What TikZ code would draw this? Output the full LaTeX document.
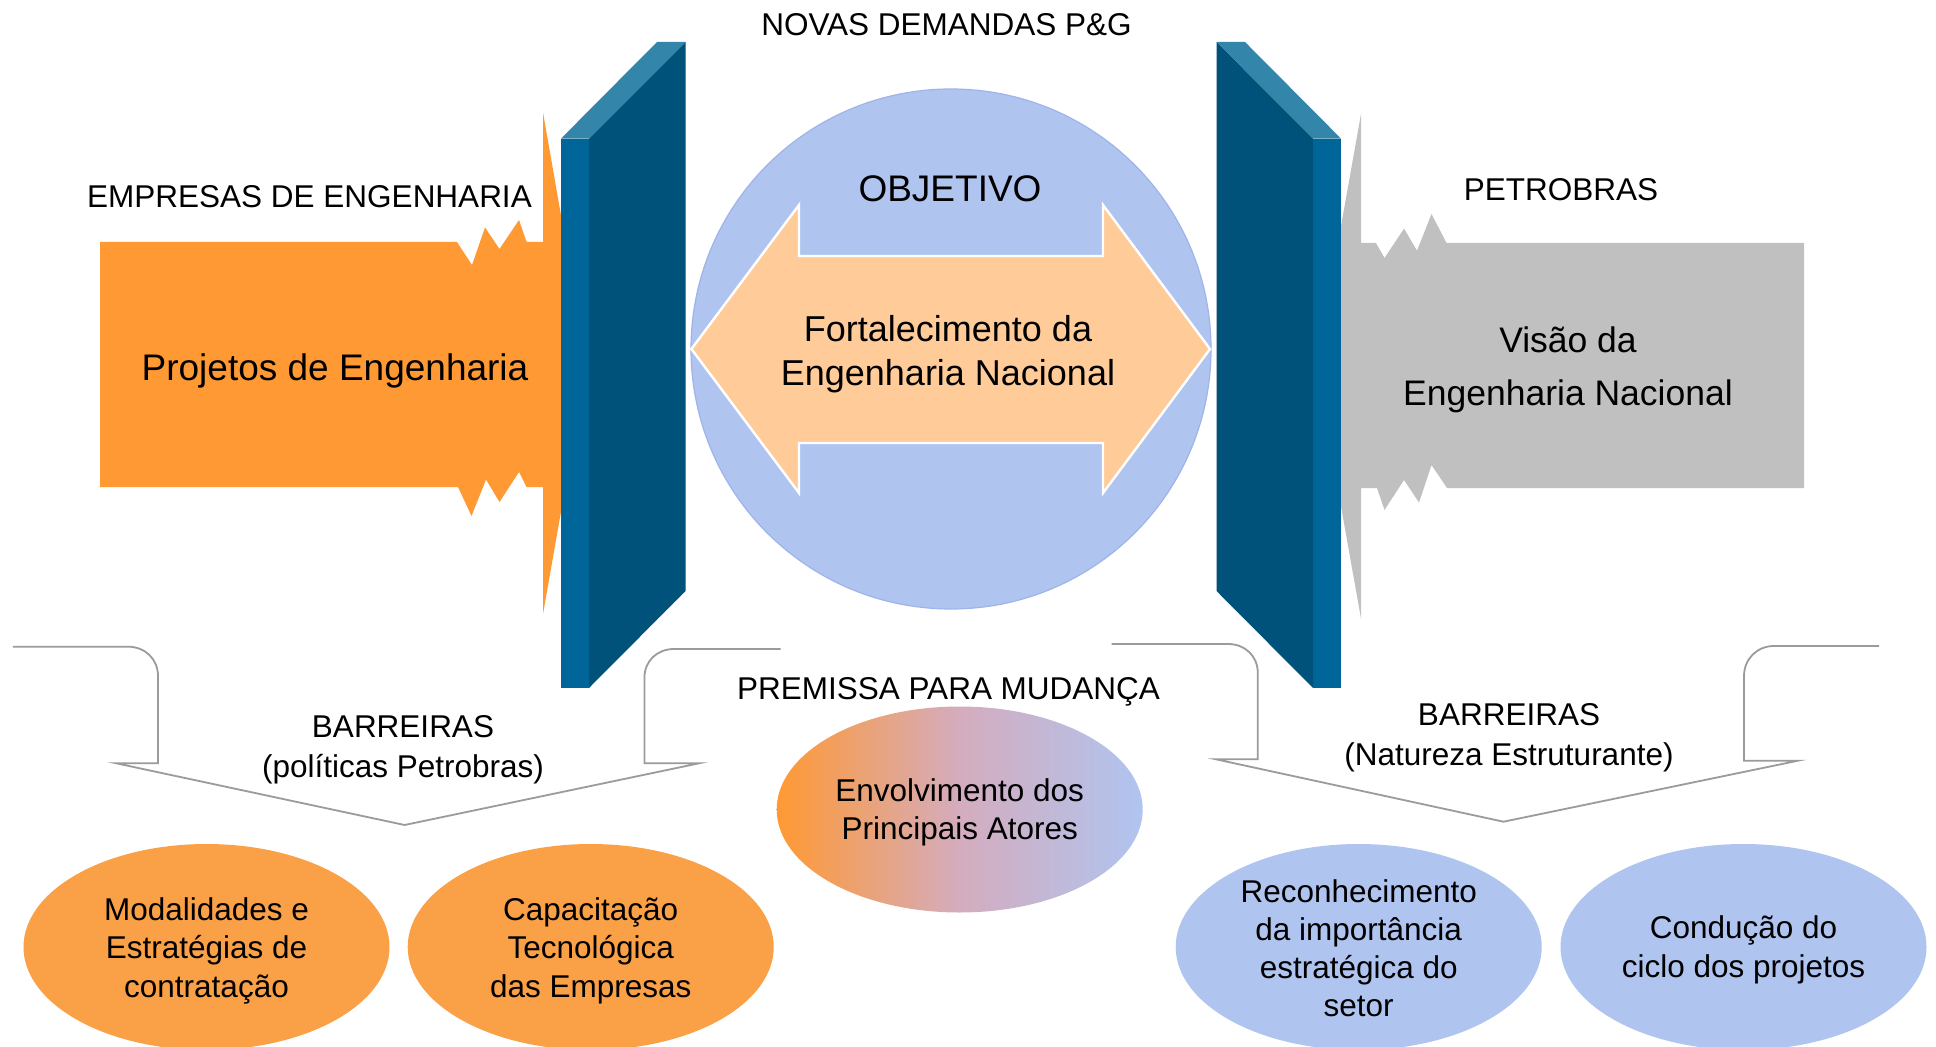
\documentclass[tikz,border=0pt]{standalone}
\usepackage{fontspec}
\setmainfont{Liberation Sans}
\usetikzlibrary{shapes.geometric}
\definecolor{orng}{RGB}{255,153,51}
\definecolor{orngpat}{RGB}{250,160,70}
\definecolor{grayarrow}{RGB}{192,192,192}
\definecolor{panelfront}{RGB}{0,102,153}
\definecolor{paneldark}{RGB}{0,82,122}
\definecolor{paneltop}{RGB}{51,133,170}
\definecolor{lblue}{RGB}{176,196,240}
\definecolor{lbluedraw}{RGB}{158,180,234}
\definecolor{peach}{RGB}{255,204,153}
\definecolor{calloutgray}{RGB}{155,155,155}
\newcommand\myfA{\fontsize{15.75}{19.15}\selectfont}
\newcommand\myfBar{\fontsize{15.75}{19.75}\selectfont}
\newcommand\myfBig{\fontsize{18.5}{22}\selectfont}
\newcommand\myfFort{\fontsize{18}{22}\selectfont}
\newcommand\myfVis{\fontsize{17.75}{26.5}\selectfont}
\begin{document}
\begin{tikzpicture}[x=0.5pt,y=-0.5pt,
  txt/.style={inner sep=0pt, align=center, font=\myfA},
  oval/.style={ellipse, minimum width=183pt, minimum height=103pt, inner sep=0pt},
  orangeoval/.style={oval, fill=orngpat},
  blueoval/.style={oval, fill=lblue},
  callout/.style={draw=calloutgray, line width=0.9pt},
  front/.style={fill=panelfront},
  dark/.style={fill=paneldark},
  topface/.style={fill=paneltop}]
\useasboundingbox (0,0) rectangle (1936,1047);
\fill[white] (0,0) rectangle (1936,1047);

% orange arrow (Empresas)
\fill[orng] (100,242) -- (457,242) -- (472,265) -- (485,227.5) -- (499.5,249) -- (519,220) -- (526.6,242) -- (543,242)
  -- (543,112.5) -- (587,364) -- (543,614) -- (543,487) -- (526.6,487) -- (519,472) -- (499.5,502) -- (486,479.6)
  -- (471.5,516) -- (458,487) -- (100,487) -- cycle;
% gray arrow (Petrobras)
\fill[grayarrow] (1804,243) -- (1446.5,243) -- (1431.5,214) -- (1417,250.7) -- (1404,228.6) -- (1384.5,258) -- (1376,243)
  -- (1361,243) -- (1361,114) -- (1316,366) -- (1361,618.6) -- (1361,488) -- (1377,488) -- (1384.5,510) -- (1404,480)
  -- (1419,502.5) -- (1431.5,465) -- (1447,488) -- (1804,488) -- cycle;

% left panel
\fill[front] (561,138.6) rectangle (589,688);
\fill[dark] (589,138.6) -- (685.5,42) -- (685.5,591) -- (589,688) -- cycle;
\fill[topface] (561,138.6) -- (657,42) -- (685.5,42) -- (589,138.6) -- cycle;
% right panel
\fill[front] (1313,138.6) rectangle (1341,688);
\fill[dark] (1313,138.6) -- (1216.5,42) -- (1216.5,591) -- (1313,688) -- cycle;
\fill[topface] (1341,138.6) -- (1245,42) -- (1216.5,42) -- (1313,138.6) -- cycle;

% central circle and double arrow
\node[circle, minimum size=260pt, inner sep=0pt, fill=lblue, draw=lbluedraw, line width=0.6pt] (objcircle) at (951,349) {};
\draw[fill=peach, draw=white, line width=1.2pt] (691.4,349) -- (799,205) -- (799,256) -- (1103,256) -- (1103,205) -- (1210,349)
  -- (1103,493) -- (1103,443) -- (799,443) -- (799,493) -- cycle;

% texts top
\node[txt, anchor=base] (novas) at (946.5,36) {NOVAS DEMANDAS P\&G};
\node[txt, anchor=base] (empresas) at (309.5,208) {EMPRESAS DE ENGENHARIA};
\node[txt, anchor=base] (petrobras) at (1561,201) {PETROBRAS};
\node[txt, anchor=base, font=\myfBig] (projetos) at (335,380.5) {Projetos de Engenharia};
\node[txt, anchor=north, font=\myfVis] (visao) at (1568,326.8) {Visão da\\Engenharia Nacional};
\node[txt, anchor=base, font=\myfBig] (objetivo) at (950,202) {OBJETIVO};
\node[txt, anchor=north, font=\myfFort] (fortal) at (948,315.2) {Fortalecimento da\\Engenharia Nacional};

% callouts
\draw[callout] (12.8,646.7) -- (128,646.7) .. controls (145,646.7) and (158,659) .. (158,676) -- (158,763.3) -- (116.3,763.3)
  -- (404.6,825) -- (699,763.3) -- (644.4,763.3) -- (644.4,678) .. controls (644.4,661) and (657,649) .. (674,649) -- (780.6,649);
\draw[callout] (1111.7,644) -- (1228,644) .. controls (1245,644) and (1257.8,656) .. (1257.8,673) -- (1257.8,759.3) -- (1216,759.3)
  -- (1503.5,821.7) -- (1798,760.7) -- (1744,760.7) -- (1744,676) .. controls (1744,659) and (1757,646) .. (1774,646) -- (1879,646);
\node[txt, anchor=north, font=\myfBar] (barL) at (403,715.6) {BARREIRAS\\(políticas Petrobras)};
\node[txt, anchor=north, font=\myfBar] (barR) at (1509,703.6) {BARREIRAS\\(Natureza Estruturante)};

% premissa
\node[txt, anchor=base] (premissa) at (948.5,699) {PREMISSA PARA MUDANÇA};
\node[oval, left color=orng, right color=lblue, middle color={rgb,255:red,212;green,172;blue,190}] (envolv) at (959.7,809.5) {};
\node[txt, yshift=-1.6pt] (envolvtxt) at (envolv.center) {Envolvimento dos\\Principais Atores};

% bottom ellipses
\node[orangeoval] (modal) at (206.5,947) {};
\node[txt, yshift=-1.85pt] (modaltxt) at (modal.center) {Modalidades e\\Estratégias de\\contratação};
\node[orangeoval] (capac) at (590.7,947) {};
\node[txt, yshift=-1.85pt] (capactxt) at (capac.center) {Capacitação\\Tecnológica\\das Empresas};
\node[blueoval] (recon) at (1358.7,947) {};
\node[txt, yshift=-0.6pt] (recontxt) at (recon.center) {Reconhecimento\\da importância\\estratégica do\\setor};
\node[blueoval] (condu) at (1743.5,947) {};
\node[txt, yshift=-1.35pt] (condutxt) at (condu.center) {Condução do\\ciclo dos projetos};
\end{tikzpicture}
\end{document}
